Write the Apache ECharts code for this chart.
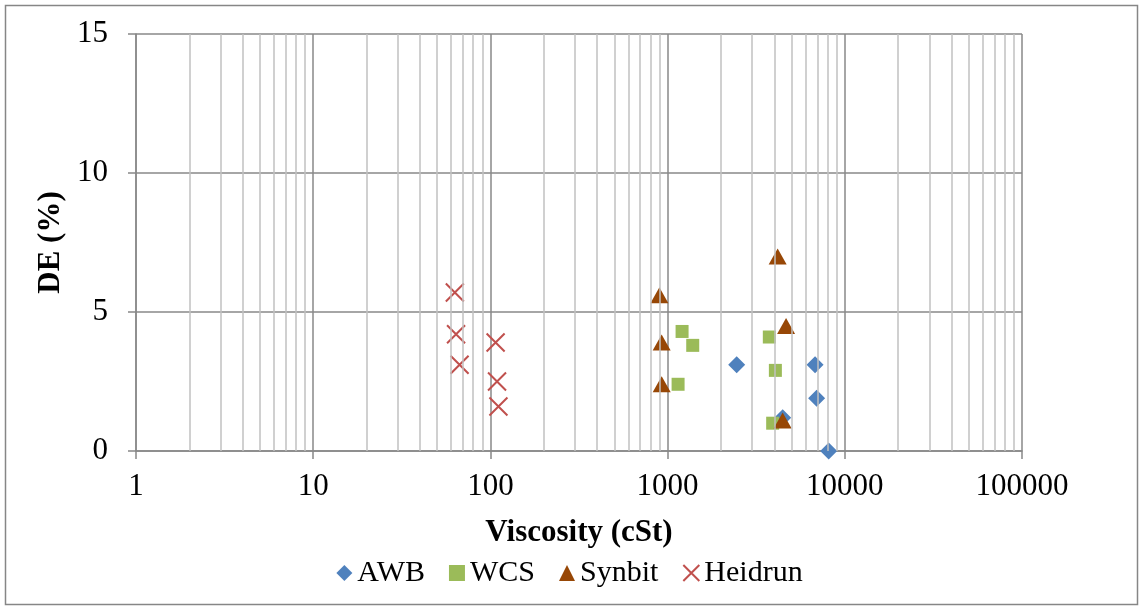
<!DOCTYPE html>
<html>
<head>
<meta charset="utf-8">
<script src="https://cdn.jsdelivr.net/npm/echarts@6/dist/echarts.min.js"></script>
<style>html,body{margin:0;padding:0;background:#fff}#c{width:1139px;height:607px}</style>
</head>
<body>
<div id="c"></div>
<script>
const seriesNames = ['AWB', 'WCS', 'Synbit', 'Heidrun'];
const awbX = [2455, 6795, 6935, 4460, 8110];
const awbY = [3.1, 3.1, 1.9, 1.2, 0.0];
const wcsX = [1207, 1386, 1146, 3750, 4057, 3917];
const wcsY = [4.3, 3.8, 2.4, 4.1, 2.9, 1.0];
const synbitX = [899, 926, 926, 4178, 4660, 4460];
const synbitY = [5.6, 3.9, 2.4, 7.0, 4.5, 1.1];
const heidrunX = [63, 64, 67, 107, 109, 111];
const heidrunY = [5.7, 4.2, 3.1, 3.9, 2.5, 1.6];
const xTickLabels = ['1', '10', '100', '1000', '10000', '100000'];
const yTickLabels = ['0', '5', '10', '15'];
const minorGrid = [];
for (let d = 1; d < 100000; d *= 10) for (let k = 2; k <= 9; k++) minorGrid.push(d * k);

const pairs = (xs, ys) => xs.map((x, i) => [x, ys[i]]);
const font = 'Liberation Serif';
const crossPath = 'path://M0,0 L10,10 M10,0 L0,10';

const chart = echarts.init(document.getElementById('c'), null, {renderer: 'canvas'});
chart.setOption({
  animation: false,
  backgroundColor: '#fff',
  graphic: [{type: 'rect', shape: {x: 5.5, y: 5.5, width: 1132, height: 599}, style: {fill: 'none', stroke: '#868686', lineWidth: 1.5}, z: -10}],
  grid: {left: 136, right: 117, top: 34, bottom: 156, containLabel: false},
  legend: {
    data: seriesNames,
    bottom: 14,
    left: 'center',
    itemGap: 24,
    itemWidth: 16,
    itemHeight: 16,
    textStyle: {fontFamily: font, fontSize: 30, color: '#000'},
    selectedMode: false
  },
  xAxis: {
    type: 'log', logBase: 10, min: 1, max: 100000,
    name: 'Viscosity (cSt)', nameLocation: 'middle', nameGap: 66,
    nameTextStyle: {fontFamily: font, fontSize: 31, fontWeight: 'bold', color: '#000'},
    axisLine: {show: true, onZero: false, lineStyle: {color: '#888', width: 1.5}},
    axisTick: {show: true, length: 8, lineStyle: {color: '#888', width: 1.5}},
    axisLabel: {fontFamily: font, fontSize: 31, color: '#000', margin: 20,
      formatter: v => { const i = Math.round(Math.log10(v)); return xTickLabels[i] !== undefined ? xTickLabels[i] : ''; }},
    splitLine: {show: true, lineStyle: {color: '#888', width: 1.5}},
    minorTick: {show: false}
  },
  yAxis: {
    type: 'value', min: 0, max: 15, interval: 5,
    name: 'DE (%)', nameLocation: 'middle', nameGap: 66,
    nameTextStyle: {fontFamily: font, fontSize: 31, fontWeight: 'bold', color: '#000'},
    axisLine: {show: true, lineStyle: {color: '#888', width: 1.5}},
    axisTick: {show: true, length: 8, lineStyle: {color: '#888', width: 1.5}},
    axisLabel: {fontFamily: font, fontSize: 31, color: '#000', margin: 28,
      formatter: v => yTickLabels[Math.round(v / 5)]},
    splitLine: {show: true, lineStyle: {color: '#888', width: 1.5}}
  },
  series: [
    {type: 'scatter', name: '_minor', data: [], z: 1, silent: true,
      markLine: {silent: true, symbol: ['none', 'none'], label: {show: false},
        lineStyle: {color: '#c0c0c0', width: 1.5, type: 'solid'},
        emphasis: {disabled: true},
        data: minorGrid.map(v => ({xAxis: v}))}},
    {type: 'scatter', name: 'AWB', data: pairs(awbX, awbY), symbol: 'diamond', symbolSize: [17, 17], z: 3,
      itemStyle: {color: '#4F81BD', opacity: 1}},
    {type: 'scatter', name: 'WCS', data: pairs(wcsX, wcsY), symbol: 'rect', symbolSize: [13, 13], z: 3,
      itemStyle: {color: '#9BBB59', opacity: 1}},
    {type: 'scatter', name: 'Synbit', data: pairs(synbitX, synbitY), symbol: 'triangle', symbolSize: [18, 16], z: 4,
      itemStyle: {color: '#974706', opacity: 1}},
    {type: 'scatter', name: 'Heidrun', data: pairs(heidrunX, heidrunY), symbol: crossPath, symbolSize: [18, 18], z: 3,
      itemStyle: {color: 'rgba(0,0,0,0)', borderColor: '#C0504D', borderWidth: 2, opacity: 1}}
  ]
});
</script>
</body>
</html>
